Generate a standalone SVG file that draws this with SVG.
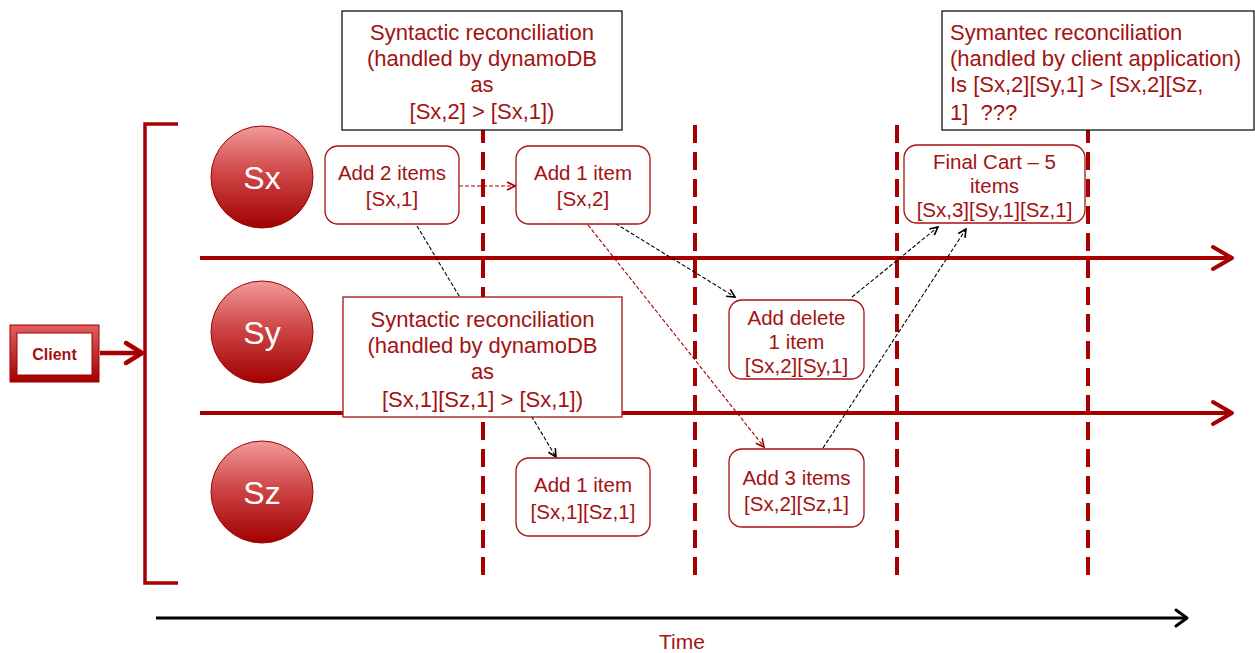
<svg xmlns="http://www.w3.org/2000/svg" width="1255" height="653" viewBox="0 0 1255 653">
<defs>
<linearGradient id="ball" x1="0" y1="0" x2="0" y2="1">
<stop offset="0" stop-color="#f29a9a"/>
<stop offset="0.45" stop-color="#d04848"/>
<stop offset="1" stop-color="#a00000"/>
</linearGradient>
<linearGradient id="cl" x1="0" y1="0" x2="0" y2="1">
<stop offset="0" stop-color="#e06060"/>
<stop offset="1" stop-color="#a50000"/>
</linearGradient>
<marker id="ab" viewBox="0 0 10 10" refX="9" refY="5" markerWidth="10" markerHeight="10" markerUnits="userSpaceOnUse" orient="auto">
<path d="M1,1 L9,5 L1,9" fill="none" stroke="#000" stroke-width="1.6"/>
</marker>
<marker id="ar" viewBox="0 0 10 10" refX="9" refY="5" markerWidth="10" markerHeight="10" markerUnits="userSpaceOnUse" orient="auto">
<path d="M1,1 L9,5 L1,9" fill="none" stroke="#a00000" stroke-width="1.6"/>
</marker>
</defs>
<style>
.t{font-family:"Liberation Sans",Arial,sans-serif;fill:#a31212;text-anchor:middle}
.nt{font-size:20.5px}
.bx{font-size:22px}
.n{fill:#fff;stroke:#a81010;stroke-width:1.3}
.vd{stroke:#a80000;stroke-width:4;stroke-dasharray:18 9;fill:none}
.hl{stroke:#a80000;stroke-width:4;fill:none}
.hh{stroke:#a80000;stroke-width:4;fill:none;stroke-linecap:round;stroke-linejoin:round}
.cb{stroke:#000;stroke-width:1.1;stroke-dasharray:4 2;fill:none}
.cr{stroke:#a00000;stroke-width:1.1;stroke-dasharray:4 2;fill:none}
.ball{fill:url(#ball);stroke:#a00000;stroke-width:1}
.bt{font-family:"Liberation Sans",Arial,sans-serif;fill:#fff;font-size:32px;text-anchor:middle}
</style>

<g id="lanes">
<path class="vd" d="M483,125 V583"/>
<path class="vd" d="M695,125 V583"/>
<path class="vd" d="M897,125 V583"/>
<path class="vd" d="M1088,125 V583"/>
<path class="hl" d="M200,258 H1231"/>
<path class="hh" d="M1213,247 L1232,258 L1213,269"/>
<path class="hl" d="M200,413 H1231"/>
<path class="hh" d="M1213,402 L1232,413 L1213,424"/>
</g>

<g id="bracket">
<path d="M178,124 H145 V583 H178" fill="none" stroke="#a80000" stroke-width="3.5"/>
</g>

<g id="client">
<rect x="10" y="325" width="89" height="57" fill="url(#cl)" stroke="#a00000" stroke-width="1"/>
<rect x="17" y="333" width="75" height="42" fill="#fff" stroke="#a00000" stroke-width="1"/>
<text x="54.5" y="359.5" class="t" style="font-size:16px;font-weight:bold">Client</text>
<path d="M100,353 H141" stroke="#a80000" stroke-width="4.5" fill="none"/>
<path d="M126,343 L142,353 L126,363" class="hh" style="stroke-width:4.5"/>
</g>

<g id="sx"><circle cx="262" cy="177" r="51" class="ball"/><text x="262" y="188.5" class="bt">Sx</text></g>
<g id="sy"><circle cx="262" cy="332" r="51" class="ball"/><text x="262" y="343.5" class="bt">Sy</text></g>
<g id="sz"><circle cx="262" cy="492" r="51" class="ball"/><text x="262" y="503.5" class="bt">Sz</text></g>

<g id="connectors">
<path class="cr" d="M459,186 H515" marker-end="url(#ar)"/>
<path class="cb" d="M417,226 L556,457" marker-end="url(#ab)"/>
<path class="cb" d="M595,211 L735,297" marker-end="url(#ab)"/>
<path class="cr" d="M588,225 L764,447" marker-end="url(#ar)"/>
<path class="cb" d="M852,297 L938,227" marker-end="url(#ab)"/>
<path class="cb" d="M823,448 L966,229" marker-end="url(#ab)"/>
</g>

<g id="n1"><rect class="n" x="325" y="146" width="134" height="78" rx="13"/>
<text class="t nt" x="392" y="180">Add 2 items</text>
<text class="t nt" x="392" y="206">[Sx,1]</text></g>

<g id="n2"><rect class="n" x="516" y="146" width="134" height="78" rx="13"/>
<text class="t nt" x="583" y="180">Add 1 item</text>
<text class="t nt" x="583" y="206">[Sx,2]</text></g>

<g id="n3"><rect class="n" x="904" y="145" width="181" height="78" rx="13"/>
<text class="t nt" x="994.5" y="169">Final Cart – 5</text>
<text class="t nt" x="994.5" y="193">items</text>
<text class="t nt" x="994.5" y="217">[Sx,3][Sy,1][Sz,1]</text></g>

<g id="n4"><rect class="n" x="729" y="300" width="135" height="79" rx="13"/>
<text class="t nt" x="796.5" y="325">Add delete</text>
<text class="t nt" x="796.5" y="349">1 item</text>
<text class="t nt" x="796.5" y="373">[Sx,2][Sy,1]</text></g>

<g id="n5"><rect class="n" x="516" y="458" width="134" height="78" rx="13"/>
<text class="t nt" x="583" y="492">Add 1 item</text>
<text class="t nt" x="583" y="519">[Sx,1][Sz,1]</text></g>

<g id="n6"><rect class="n" x="729" y="449" width="135" height="78" rx="13"/>
<text class="t nt" x="796.5" y="485">Add 3 items</text>
<text class="t nt" x="796.5" y="511">[Sx,2][Sz,1]</text></g>

<g id="note1"><rect x="342" y="11" width="280" height="119" fill="#fff" stroke="#000" stroke-width="1.2"/>
<text class="t bx" x="482" y="40">Syntactic reconciliation</text>
<text class="t bx" x="482" y="66">(handled by dynamoDB</text>
<text class="t bx" x="482" y="92">as</text>
<text class="t bx" x="482" y="119">[Sx,2] &gt; [Sx,1])</text></g>

<g id="note2"><rect x="343" y="297" width="279" height="120" fill="#fff" stroke="#a81010" stroke-width="1.3"/>
<text class="t bx" x="482.5" y="327">Syntactic reconciliation</text>
<text class="t bx" x="482.5" y="353">(handled by dynamoDB</text>
<text class="t bx" x="482.5" y="379">as</text>
<text class="t bx" x="482.5" y="407">[Sx,1][Sz,1] &gt; [Sx,1])</text></g>

<g id="note3"><rect x="942" y="11" width="312" height="119" fill="#fff" stroke="#000" stroke-width="1.2"/>
<text class="t bx" x="950" y="40" style="text-anchor:start">Symantec reconciliation</text>
<text class="t bx" x="950" y="66" style="text-anchor:start">(handled by client application)</text>
<text class="t bx" x="950" y="92" style="text-anchor:start">Is [Sx,2][Sy,1] &gt; [Sx,2][Sz,</text>
<text class="t bx" x="950" y="120" style="text-anchor:start">1]&#160; ???</text></g>

<g id="time">
<path d="M156,618 H1186" stroke="#000" stroke-width="3" fill="none"/>
<path d="M1176,610 L1187,618 L1176,626" stroke="#000" stroke-width="3" fill="none" stroke-linecap="round" stroke-linejoin="round"/>
<text class="t" x="682" y="649" font-size="21" style="font-family:'Liberation Sans Narrow','Liberation Sans',Arial,sans-serif">Time</text>
</g>
</svg>
